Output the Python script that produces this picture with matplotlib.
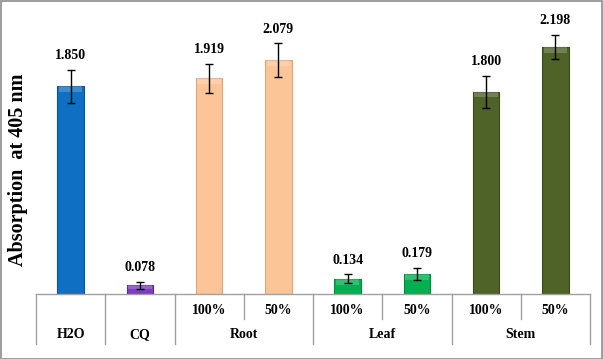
import matplotlib
matplotlib.use("Agg")
import matplotlib.pyplot as plt
from matplotlib.patches import Rectangle
import numpy as np

plt.rcParams['font.family'] = ['Liberation Serif', 'DejaVu Serif']

categories = ["H2O", "CQ", "Root 100%", "Root 50%", "Leaf 100%", "Leaf 50%", "Stem 100%", "Stem 50%"]
values = [1.850, 0.078, 1.919, 2.079, 0.134, 0.179, 1.800, 2.198]
errors = [0.147, 0.030, 0.130, 0.150, 0.040, 0.050, 0.142, 0.105]
value_labels = ["1.850", "0.078", "1.919", "2.079", "0.134", "0.179", "1.800", "2.198"]
sub_labels = ["", "", "100%", "50%", "100%", "50%", "100%", "50%"]
group_labels = ["H2O", "CQ", "Root", "Leaf", "Stem"]
group_spans = [(0, 1), (1, 2), (2, 4), (4, 6), (6, 8)]
colors = ["#0E6FC3", "#7E3DBE", "#FBC597", "#00B050", "#4F6228"]
bar_colors = [colors[0], colors[1], colors[2], colors[2], colors[3], colors[3], colors[4], colors[4]]
edge_colors = ["#0A5494", "#5B2A8C", "#E0A577", "#008A3E", "#3A4A1C"]
bar_edges = [edge_colors[0], edge_colors[1], edge_colors[2], edge_colors[2], edge_colors[3], edge_colors[3], edge_colors[4], edge_colors[4]]

W, H = 603, 359
fig = plt.figure(figsize=(W / 100, H / 100), dpi=100)
left, right, top, base = 36, 590, 5, 294
ax = fig.add_axes([left / W, (H - base) / H, (right - left) / W, (base - top) / H])

x = np.arange(len(values))
ymax = (base - top) / 112.4
ax.set_xlim(-0.5, len(values) - 0.5)
ax.set_ylim(0, ymax)

bars = ax.bar(x, values, width=0.38, color=bar_colors, edgecolor=bar_edges, linewidth=0.8, zorder=2)
# highlight strip at top of each bar (bevel look)
for xi, v, c in zip(x, values, bar_colors):
    h = min(0.05, v * 0.4)
    ax.add_patch(Rectangle((xi - 0.17, v - h), 0.34, h, facecolor="white", alpha=0.2, linewidth=0, zorder=3))

ax.errorbar(x, values, yerr=errors, fmt="none", ecolor="black", elinewidth=1.0, capsize=2.8, capthick=1.0, zorder=4)

for xi, v, e, lab in zip(x, values, errors, value_labels):
    ax.text(xi, v + e + 0.07, lab, ha="center", va="bottom", fontsize=10, fontweight="bold")

for s in ax.spines.values():
    s.set_visible(False)
ax.set_xticks([])
ax.set_yticks([])

# category table below the axis
def fy(py):
    return (H - py) / H

def fx(px):
    return px / W

step = (right - left) / len(values)
lc = "#A0A0A0"
fig.add_artist(plt.Line2D([fx(left), fx(right)], [fy(base), fy(base)], color=lc, lw=1))
bounds = sorted(set([s for s, e in group_spans] + [e for s, e in group_spans]))
for b in bounds:
    px = left + b * step
    fig.add_artist(plt.Line2D([fx(px), fx(px)], [fy(base), fy(344)], color=lc, lw=1))
for s, e in group_spans:
    for k in range(s + 1, e):
        px = left + k * step
        fig.add_artist(plt.Line2D([fx(px), fx(px)], [fy(base), fy(319)], color=lc, lw=1))

for i, lab in enumerate(sub_labels):
    if lab:
        fig.text(fx(left + (i + 0.5) * step), fy(311), lab, ha="center", va="center", fontsize=10, fontweight="bold")
for (s, e), lab in zip(group_spans, group_labels):
    fig.text(fx(left + (s + e) / 2 * step), fy(335), lab, ha="center", va="center", fontsize=10, fontweight="bold")

fig.text(fx(18), fy(170), "Absorption  at 405 nm", rotation=90, ha="center", va="center", fontsize=14.5, fontweight="bold")

fig.add_artist(Rectangle((0.5 / W, 0.5 / H), (W - 1.5) / W, (H - 1.5) / H, transform=fig.transFigure,
                         fill=False, edgecolor="#8C8C8C", linewidth=1.2))

fig.savefig("out.png", dpi=100)
